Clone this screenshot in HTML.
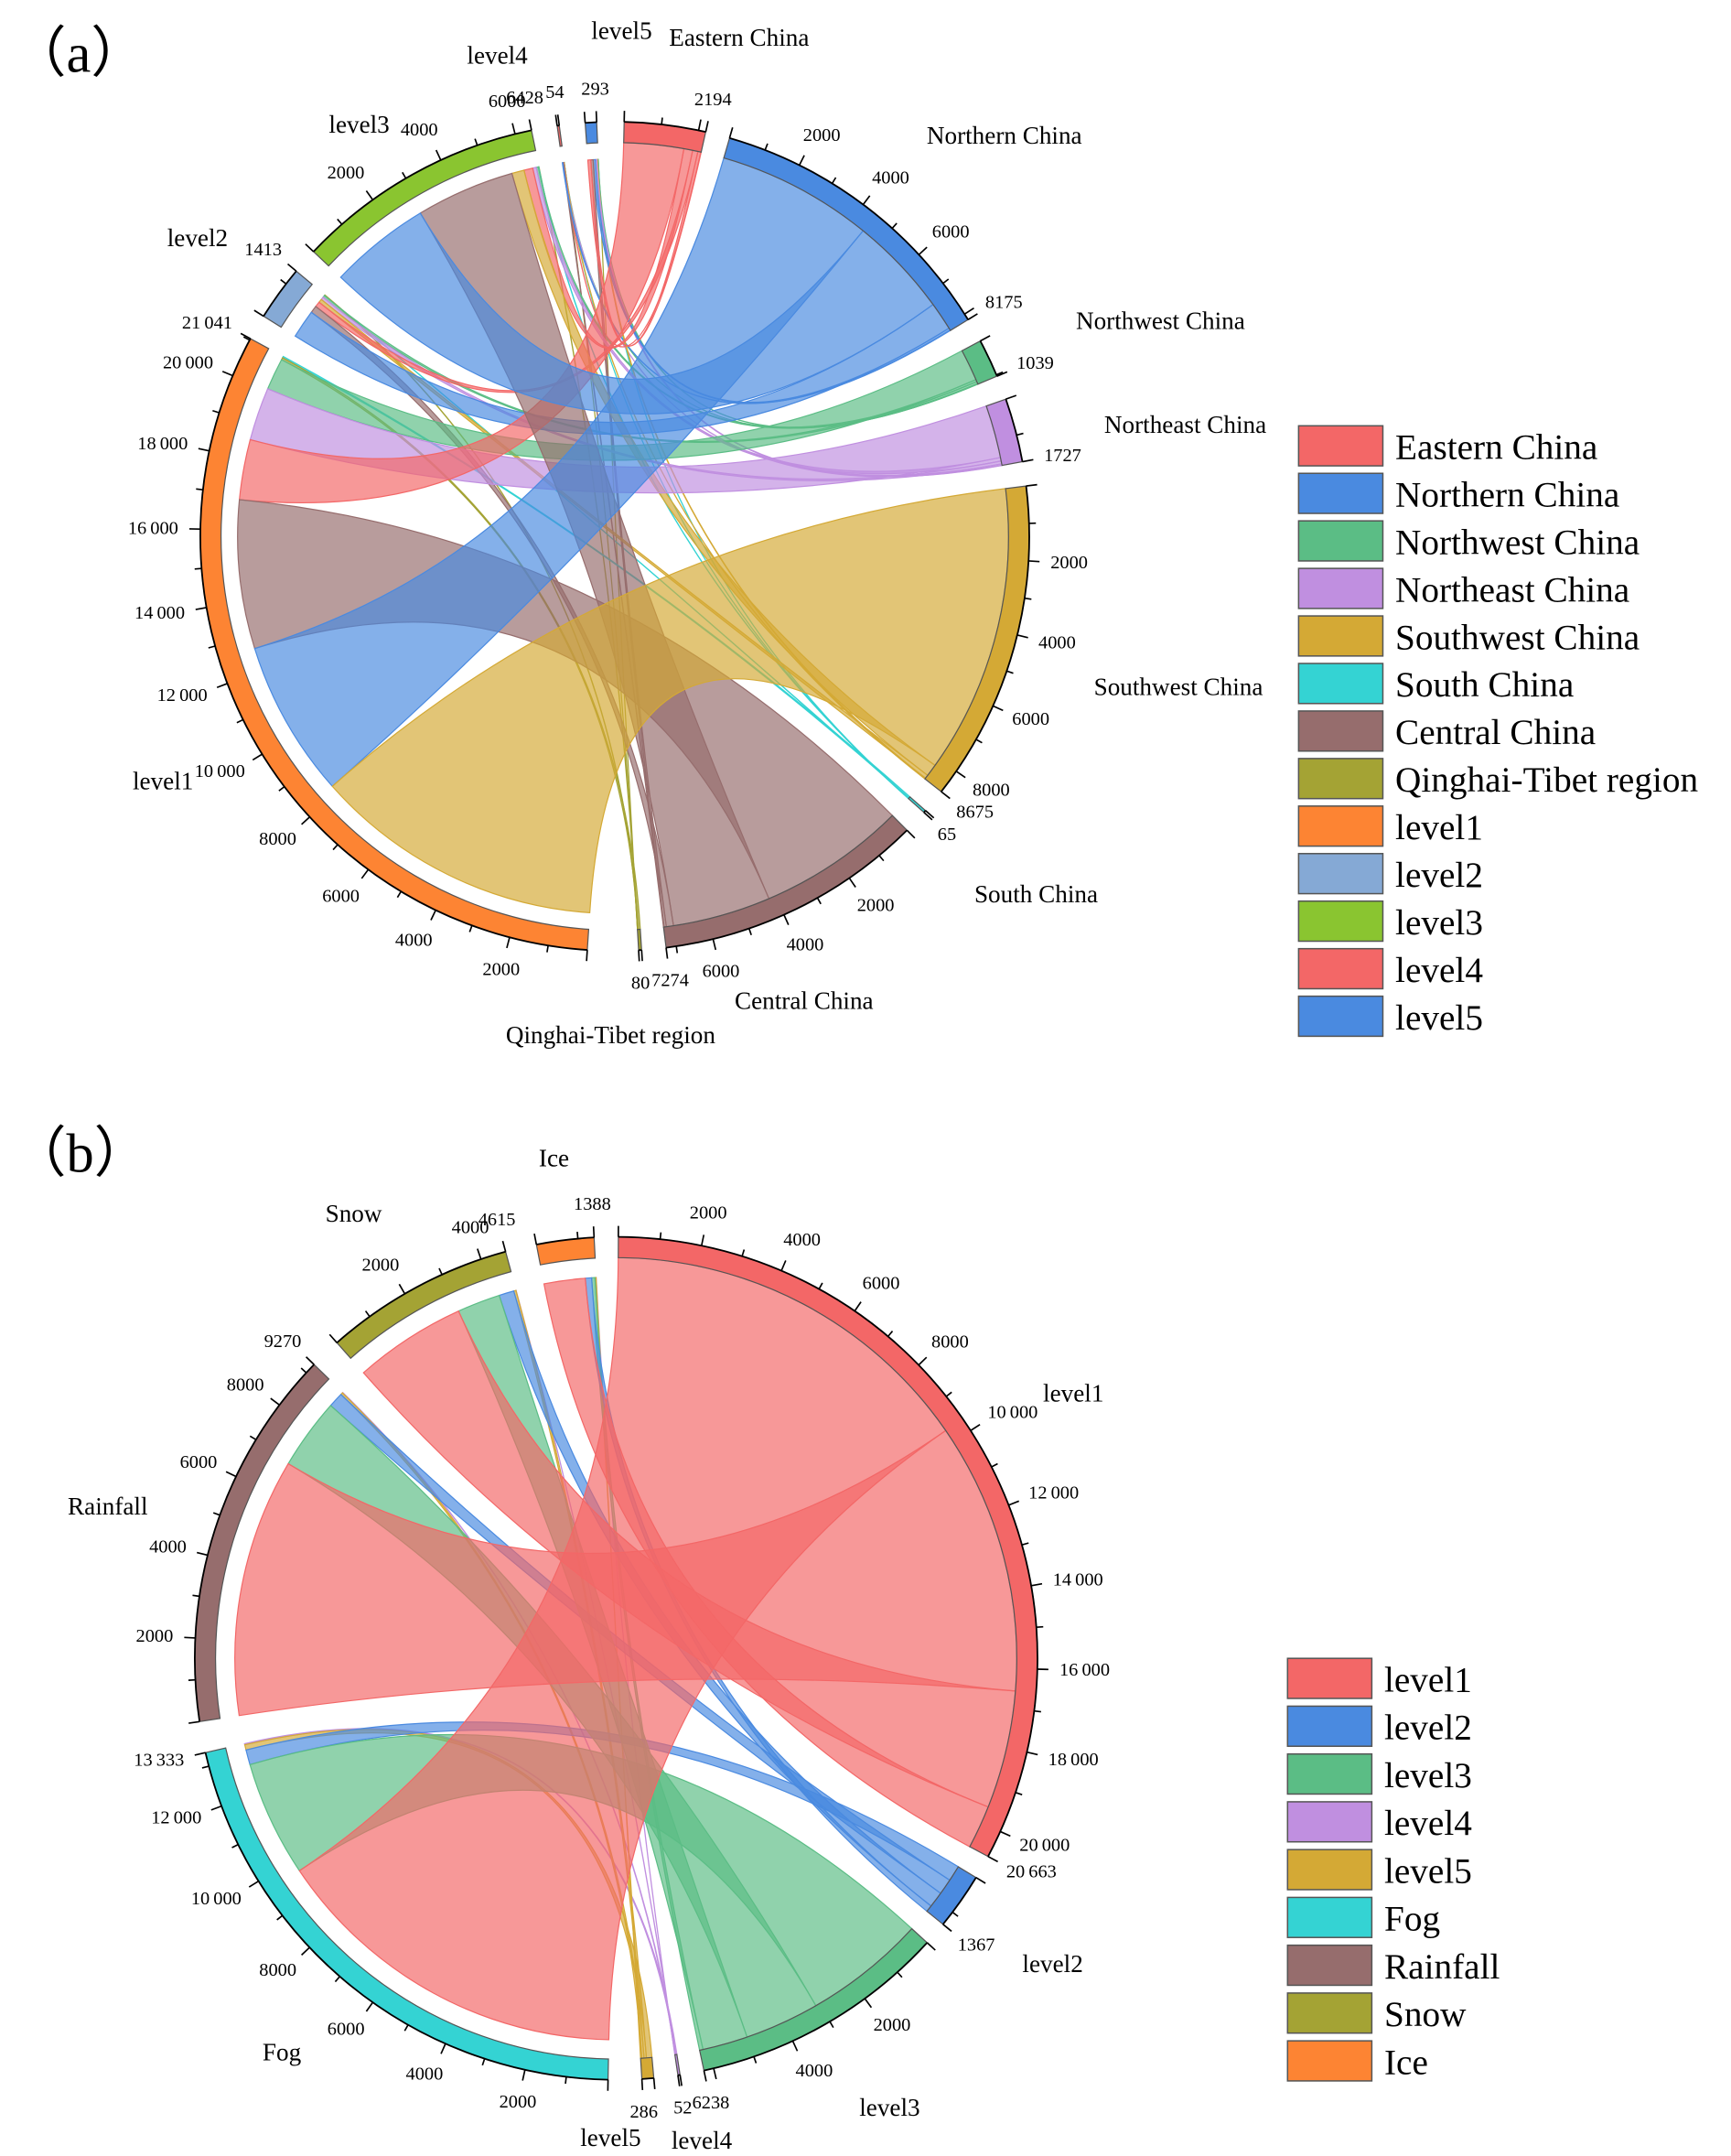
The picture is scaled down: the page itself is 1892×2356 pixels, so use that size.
<!DOCTYPE html>
<html><head><meta charset="utf-8">
<style>
html,body{margin:0;padding:0;background:#fff;}
svg{display:block;font-family:"Liberation Serif",serif;}
</style></head>
<body>
<svg id="chart" width="1892" height="2356" viewBox="0 0 1253 1560" xmlns="http://www.w3.org/2000/svg">
  <text x="8" y="52" font-size="40">（a）</text>
  <text x="8" y="848" font-size="40">（b）</text>
  <g id="chartA"></g>
  <g id="chartB"></g>
  <g font-size="18" text-anchor="middle">
    <text x="535" y="33">Eastern China</text>
    <text x="727" y="104">Northern China</text>
    <text x="840" y="238">Northwest China</text>
    <text x="858" y="313">Northeast China</text>
    <text x="853" y="503">Southwest China</text>
    <text x="750" y="653">South China</text>
    <text x="582" y="730">Central China</text>
    <text x="442" y="755">Qinghai-Tibet region</text>
    <text x="118" y="571">level1</text>
    <text x="143" y="178">level2</text>
    <text x="260" y="96">level3</text>
    <text x="360" y="46">level4</text>
    <text x="450" y="28">level5</text>
  </g>
  <g font-size="18" text-anchor="middle">
    <text x="401" y="844">Ice</text>
    <text x="256" y="884">Snow</text>
    <text x="78" y="1096">Rainfall</text>
    <text x="204" y="1491">Fog</text>
    <text x="442" y="1553">level5</text>
    <text x="508" y="1555">level4</text>
    <text x="644" y="1531">level3</text>
    <text x="762" y="1427">level2</text>
    <text x="777" y="1014">level1</text>
  </g>
  <g id="legendA"></g>
  <g id="legendB"></g>
</svg>
<script>
// ---------- Chart (a) data ----------
const regionNamesA = ["Eastern China","Northern China","Northwest China","Northeast China","Southwest China","South China","Central China","Qinghai-Tibet region"];
const levelNamesA = ["level1","level2","level3","level4","level5"];
// flows per region to level1..level5
const flowEastern   = [1700, 150, 250, 10, 84];
const flowNorthern  = [4440, 800, 2860, 15, 60];
const flowNorthwest = [900, 60, 60, 3, 16];
const flowNortheast = [1500, 80, 100, 5, 42];
const flowSouthwest = [8201, 100, 349, 5, 20];
const flowSouth     = [40, 10, 10, 1, 4];
const flowCentral   = [4200, 203, 2791, 14, 66];
const flowQinghai   = [60, 10, 8, 1, 1];
const flowsA = [flowEastern, flowNorthern, flowNorthwest, flowNortheast, flowSouthwest, flowSouth, flowCentral, flowQinghai];

// ---------- Chart (b) data ----------
const levelNamesB = ["level1","level2","level3","level4","level5"];
const typeNamesB = ["Fog","Rainfall","Snow","Ice"];
// flows per level to Fog, Rainfall, Snow, Ice
const flowLevel1 = [9663, 6900, 3000, 1100];
const flowLevel2 = [400, 400, 400, 167];
const flowLevel3 = [3100, 1900, 1150, 88];
const flowLevel4 = [30, 14, 5, 3];
const flowLevel5 = [140, 56, 60, 30];
const flowsB = [flowLevel1, flowLevel2, flowLevel3, flowLevel4, flowLevel5];

const regionColorsA = ["#f36767","#4a8ae0","#5bbd85","#c08fe0","#d4a935","#34d3d3","#966d6d","#a4a334"];
const levelColorsA = ["#fd8433","#85a9d5","#8ac530","#f36767","#4a8ae0"];
const levelColorsB = ["#f36767","#4a8ae0","#5bbd85","#c08fe0","#d4a935"];
const typeColorsB = ["#34d3d3","#966d6d","#a4a334","#fd8433"];

const NS = "http://www.w3.org/2000/svg";
function mk(tag, attrs, parent){ const e=document.createElementNS(NS,tag); for(const k in attrs) e.setAttribute(k,attrs[k]); parent.appendChild(e); return e; }
const rad = d => d*Math.PI/180;
function pt(cx,cy,r,a){ return [cx+r*Math.sin(rad(a)), cy-r*Math.cos(rad(a))]; }
function fmt(n){ n=Math.round(n); return n>=10000 ? String(n).replace(/(\d)(\d{3})$/,'$1\u2009$2') : String(n); }

function layoutSide(totals, start, end, k){
  const sum = totals.reduce((a,b)=>a+b,0);
  const gap = totals.length>1 ? ((end-start) - sum*k)/(totals.length-1) : 0;
  let a = start; const out=[];
  totals.forEach(t=>{ out.push({a0:a, a1:a+t*k, k}); a += t*k + gap; });
  return out;
}

function drawChart(g, cx, cy, R, bandW, srcNames, srcColors, srcSec, tgtNames, tgtColors, tgtSec, flows, srcInset, tgtInset, tag){
  const all = srcSec.map((s,i)=>({s, name:srcNames[i], color:srcColors[i]})).concat(tgtSec.map((s,i)=>({s, name:tgtNames[i], color:tgtColors[i]})));
  const srcPos = srcSec.map(s=>s.a0), tgtPos = tgtSec.map(s=>s.a0);
  const srcAlloc = {}, tgtAlloc = {};
  srcSec.forEach((s,i)=>{
    const order = flows[i].map((v,j)=>[v,j]).filter(x=>x[0]>0).sort((a,b)=>b[0]-a[0]);
    order.forEach(([v,j])=>{ srcAlloc[i+'_'+j]=[srcPos[i], srcPos[i]+v*s.k]; srcPos[i]+=v*s.k; });
  });
  tgtSec.forEach((s,j)=>{
    const order = flows.map((row,i)=>[row[j],i]).filter(x=>x[0]>0).sort((a,b)=>b[0]-a[0]);
    order.forEach(([v,i])=>{ tgtAlloc[i+'_'+j]=[tgtPos[j], tgtPos[j]+v*s.k]; tgtPos[j]+=v*s.k; });
  });
  const rs = R-bandW-srcInset, rt = R-bandW-tgtInset;
  const chords = [];
  flows.forEach((row,i)=>row.forEach((v,j)=>{ if(v>0) chords.push([v,i,j]); }));
  chords.sort((a,b)=>a[0]-b[0]);
  chords.forEach(([v,i,j])=>{
    const [s0,s1]=srcAlloc[i+'_'+j], [t0,t1]=tgtAlloc[i+'_'+j];
    const p0=pt(cx,cy,rs,s0), p1=pt(cx,cy,rs,s1), q0=pt(cx,cy,rt,t0), q1=pt(cx,cy,rt,t1);
    const d=`M${p0} A${rs},${rs} 0 ${s1-s0>180?1:0} 1 ${p1} Q${cx},${cy} ${q0} A${rt},${rt} 0 ${t1-t0>180?1:0} 1 ${q1} Q${cx},${cy} ${p0} Z`;
    const path = mk('path',{d, fill:srcColors[i], 'fill-opacity':0.68, stroke:srcColors[i], 'stroke-width':0.8}, g);
    
    
  });
  all.forEach(({s,name,color})=>{
    const k = s.k;
    const total = Math.round((s.a1-s.a0)/k);
    const o0=pt(cx,cy,R,s.a0), o1=pt(cx,cy,R,s.a1), i0=pt(cx,cy,R-bandW,s.a0), i1=pt(cx,cy,R-bandW,s.a1);
    const lg = s.a1-s.a0>180?1:0;
    const band = mk('path',{d:`M${o0} A${R},${R} 0 ${lg} 1 ${o1} L${i1} A${R-bandW},${R-bandW} 0 ${lg} 0 ${i0} Z`, fill:color, stroke:'#555', 'stroke-width':0.8}, g);
    
    
    mk('path',{d:`M${o0} A${R},${R} 0 ${lg} 1 ${o1}`, fill:'none', stroke:'#000', 'stroke-width':1.2}, g);
    const ticks=[]; for(let v=0; v<total; v+=1000) ticks.push(v); ticks.push(total);
    ticks.forEach(v=>{
      const a = s.a0 + v*k;
      const isEnd = v===total, major = isEnd || v%2000===0;
      const len = major?8:5;
      const p=pt(cx,cy,R,a), q=pt(cx,cy,R+len,a);
      mk('line',{x1:p[0],y1:p[1],x2:q[0],y2:q[1],stroke:'#000','stroke-width':1.1}, g);
      if(major && v>0 && (isEnd || total-v>300)){
        const lp = pt(cx,cy,R+24,a);
        const sa = Math.sin(rad(a));
        const anchor = sa>0.35?'start':(sa<-0.35?'end':'middle');
        const t = mk('text',{x:lp[0]+(anchor==='start'?-8:anchor==='end'?8:0), y:lp[1], 'font-size':13.5, 'text-anchor':anchor, 'dominant-baseline':'central'}, g);
        t.textContent = fmt(v);
        
        
      }
    });
  });
}

// Chart A
(function(){
  const g = document.getElementById('chartA');
  const srcTotals = flowsA.map(r=>r.reduce((a,b)=>a+b,0));
  const tgtTotals = levelNamesA.map((_,j)=>flowsA.reduce((a,r)=>a+r[j],0));
  const sum = srcTotals.reduce((a,b)=>a+b,0);
  const kR = (175.4 - 7*3.4)/sum;
  const kL = (173.7 - 4*3.6)/sum;
  const srcSec = layoutSide(srcTotals, 1.3, 176.7, kR);
  const tgtSec = layoutSide(tgtTotals, 183.8, 357.5, kL);
  drawChart(g, 445, 388, 300, 15, regionNamesA, regionColorsA, srcSec, levelNamesA, levelColorsA, tgtSec, flowsA, 0, 12, 'a');
})();
// Chart B
(function(){
  const g = document.getElementById('chartB');
  const srcTotals = flowsB.map(r=>r.reduce((a,b)=>a+b,0));
  const tgtTotals = typeNamesB.map((_,j)=>flowsB.reduce((a,r)=>a+r[j],0));
  const sum = srcTotals.reduce((a,b)=>a+b,0);
  const k = (176.2 - 4*3.3)/sum;
  const srcSec = layoutSide(srcTotals, 0.3, 176.5, k);
  const tgtSec = layoutSide(tgtTotals, 181.1, 357, k);
  drawChart(g, 446, 1200, 305, 15, levelNamesB, levelColorsB, srcSec, typeNamesB, typeColorsB, tgtSec, flowsB, 0, 14, 'b');
})();

// Legends
function legend(id, names, colors, x, y0, step){
  const g = document.getElementById(id);
  names.forEach((n,i)=>{
    const y = y0 + i*step;
    const r = mk('rect',{x, y, width:61, height:29, fill:colors[i], stroke:'#555','stroke-width':1}, g);
    
    
    const t = mk('text',{x:x+70, y:y+24, 'font-size':26}, g);
    t.textContent = n;
    
    
  });
}
legend('legendA', regionNamesA.concat(levelNamesA), regionColorsA.concat(levelColorsA), 940, 308, 34.4);
legend('legendB', levelNamesB.concat(typeNamesB), levelColorsB.concat(typeColorsB), 932, 1200, 34.6);
</script>
</body></html>
